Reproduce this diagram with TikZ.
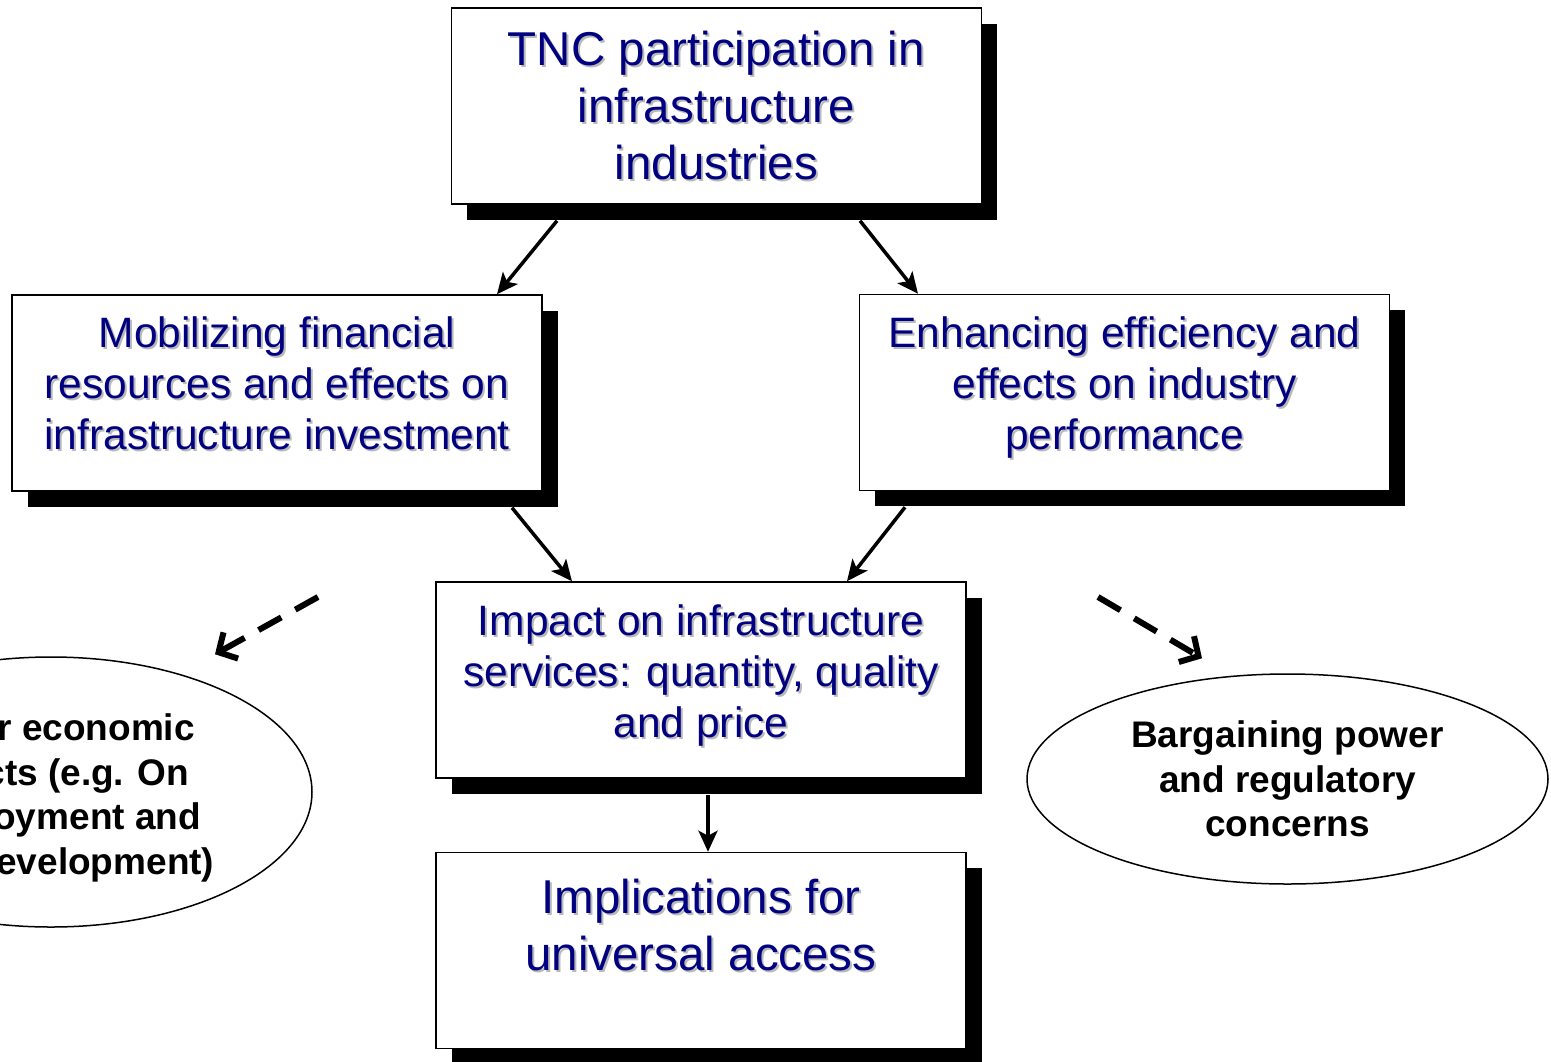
\documentclass[tikz,border=0pt]{standalone}
\usepackage{fontspec}
\setmainfont{Liberation Sans}
\usetikzlibrary{arrows.meta,shapes.geometric,shadows}
\definecolor{navytext}{RGB}{0,0,128}
\definecolor{txtshadow}{RGB}{185,185,185}
% a line of text with a soft grey copy behind it
\newcommand\shadowed[1]{\makebox[0pt][l]{\hspace*{2pt}\raisebox{-2pt}{\textcolor{txtshadow}{#1}}}#1}

\begin{document}
\begin{tikzpicture}[x=1pt,y=-1pt,line width=1.5pt,
  card/.style={draw,fill=white,minimum width=530pt,minimum height=196pt,inner sep=0pt,
    drop shadow={shadow xshift=15.5pt,shadow yshift=-15.5pt,fill=black,opacity=1}},
  bigtxt/.style={align=center,inner sep=0pt,text=navytext,font=\fontsize{47.5}{57}\selectfont},
  midtxt/.style={align=center,inner sep=0pt,text=navytext,font=\fontsize{42.5}{51}\selectfont},
  bubble/.style={draw,ellipse,fill=white,inner sep=0pt,align=center,font=\bfseries\fontsize{37}{44.5}\selectfont},
  flow/.style={-{Stealth[length=21pt,width=19pt,inset=5pt]},line width=3.5pt},
  side/.style={-{Straight Barb[length=14pt,width=30pt,line width=6pt]},line width=6pt,dash pattern=on 26pt off 16pt}]
\path[use as bounding box] (0,0) rectangle (1551,1061);

% boxes
\node[card] (tnc) at (716.5,106) {};
\node[bigtxt] (tnctxt) at (716.5,106.5) {\shadowed{TNC participation in}\\\shadowed{infrastructure}\\\shadowed{industries}};
\node[card] (mob) at (277,393) {};
\node[midtxt] (mobtxt) at (277,384.5) {\shadowed{Mobilizing financial}\\\shadowed{resources and effects on}\\\shadowed{infrastructure investment}};
\node[card] (eff) at (1124.5,392.5) {};
\node[midtxt] (efftxt) at (1124.5,389) {\shadowed{Enhancing efficiency and}\\\shadowed{effects on industry}\\\shadowed{performance}};
\node[card] (imp) at (701,680) {};
\node[midtxt] (imptxt) at (701,676.5) {\shadowed{Impact on infrastructure}\\\shadowed{services: quantity, quality}\\\shadowed{and price}};
\node[card] (impl) at (701,950.5) {};
\node[bigtxt] (impltxt) at (701,926) {\shadowed{Implications for}\\\shadowed{universal access}};

% side effects
\node[bubble,minimum width=522pt,minimum height=270pt] (other) at (51,792) {};
\node[bubble,draw=none,fill=none] (othertxt) at (54,798) {Other economic\\effects (e.g. On\\employment and\\\hspace*{80pt}development)};
\node[bubble,minimum width=521pt,minimum height=210pt] (barg) at (1287.5,779) {Bargaining power\\and regulatory\\concerns};

% arrows
\draw[flow] ([xshift=-159.5pt,yshift=-16pt]tnc.south) -- ([xshift=220pt]mob.north);
\draw[flow] ([xshift=143.5pt,yshift=-16pt]tnc.south) -- ([xshift=-206.5pt]eff.north);
\draw[flow] ([xshift=235pt,yshift=-16pt]mob.south) -- ([xshift=-129pt]imp.north);
\draw[flow] ([xshift=-219.5pt,yshift=-16pt]eff.south) -- ([xshift=146pt]imp.north);
\draw[flow] ([xshift=7pt,yshift=-16pt]imp.south) -- ([xshift=7pt]impl.north);

\coordinate (lout) at (318,597);
\coordinate (rout) at (1098,597);
\draw[side] (lout) -- ([xshift=164pt,yshift=2pt]other.north);
\draw[side] (rout) -- ([xshift=-85.5pt,yshift=15pt]barg.north);
\end{tikzpicture}
\end{document}
